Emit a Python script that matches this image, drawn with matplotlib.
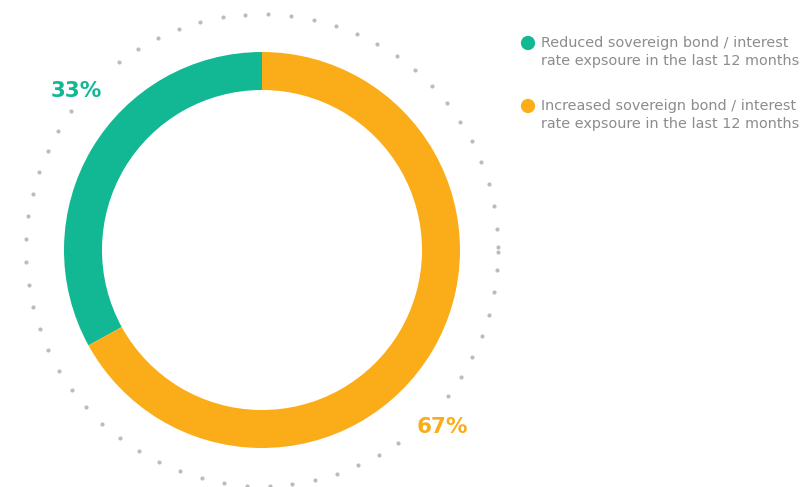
import numpy as np
import matplotlib
matplotlib.use("Agg")
import matplotlib.pyplot as plt

# Share of respondents
categories = [
    "Reduced sovereign bond / interest\nrate expsoure in the last 12 months",
    "Increased sovereign bond / interest\nrate expsoure in the last 12 months",
]
values = [33, 67]
value_labels = ["33%", "67%"]
colors = ["#12B894", "#FBAD19"]

W, H = 811, 487
fig = plt.figure(figsize=(W / 100, H / 100), dpi=100)
ax = fig.add_axes([0, 0, 1, 1])

cx, cy = 262, H - 250
r_out, ring_w = 198, 38

ax.pie(values, colors=colors, startangle=90, counterclock=True,
       radius=r_out, center=(cx, cy),
       wedgeprops=dict(width=ring_w, edgecolor="none", linewidth=0))

# dotted guide ring
r_dot = 236
n_dots = 66
step = 5.556
ang = np.deg2rad(-0.4 + step * np.arange(n_dots))
ax.scatter(cx + r_dot * np.cos(ang), cy + r_dot * np.sin(ang),
           s=9, color="#bcbcbc", linewidths=0, zorder=1)

# value labels
label_pos = [(76, H - 91), (442, H - 427)]
for (x, y), txt, c in zip(label_pos, value_labels, colors):
    ax.text(x, y, txt, color=c, fontsize=15.5, fontweight="bold",
            ha="center", va="center", zorder=3,
            bbox=dict(facecolor="white", edgecolor="none", pad=4))

# legend
leg_y = [H - 43, H - 106]
ax.scatter([528] * len(categories), leg_y, s=105, color=colors,
           linewidths=0, zorder=3)
for y, txt in zip(leg_y, categories):
    ax.text(541, y + 7, txt, color="#8c8c8c", fontsize=10.4,
            ha="left", va="top", linespacing=1.35)

ax.set_xlim(0, W)
ax.set_ylim(0, H)
ax.set_aspect("equal")
ax.axis("off")
fig.savefig("out.png", dpi=100, facecolor="white")
